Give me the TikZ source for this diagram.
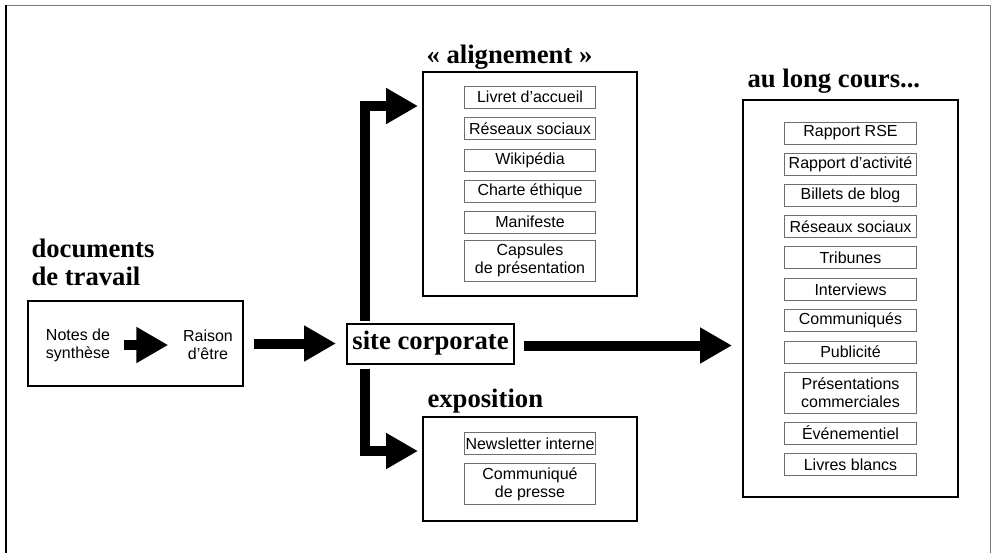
\documentclass[tikz,border=0pt]{standalone}
\usepackage{fontspec}
\setmainfont{Liberation Sans}
\newfontfamily\titlefont{Liberation Serif}
\usetikzlibrary{arrows.meta}

\tikzset{every picture/.style={line width=0.75pt}}
\tikzset{
  outerbox/.style={draw, line width=1.5pt, inner sep=0pt},
  itembox/.style={draw={rgb, 255:red, 110; green, 110; blue, 110}, line width=0.75pt, minimum width=98.5pt, minimum height=16.5pt, inner sep=0.75pt, align=center, font=\fontsize{12}{13.5}\selectfont},
  twoline/.style={itembox, minimum height=30.75pt},
  titletext/.style={font=\titlefont\bfseries\fontsize{20}{21}\selectfont, inner sep=0pt, anchor=base west},
  blockarrow/.style={line width=7.5pt, -{Triangle[width=25.5pt,length=24pt]}},
}

\begin{document}
\begin{tikzpicture}[x=0.75pt,y=0.75pt,yscale=-1,xscale=1]
\useasboundingbox (0,0) rectangle (991,553);

%Frame
\draw [color={rgb, 255:red, 120; green, 120; blue, 120 }] (6,5) -- (990,5) -- (990,553) ;
\draw [line width=1.5pt] (6,553) -- (6,5) ;

%Shape: documents de travail
\draw (135.5,343.5) node (travail) [outerbox, minimum width=161.25pt, minimum height=63.75pt] {};
% Text Node
\draw (78,345) node (notes) [inner sep=0.75pt, align=center, font=\fontsize{12}{13.5}\selectfont] {Notes de\\synthèse};
% Text Node
\draw (208,345) node (raison) [inner sep=0.75pt, align=center, font=\fontsize{12}{13.5}\selectfont] {Raison\\d’être};
\draw [blockarrow, line width=8pt, shorten <=9pt, shorten >=10pt] (notes.east) -- (raison.west) ;
% Text Node
\draw (31,257) node [titletext] {documents};
% Text Node
\draw (31,285) node [titletext] {de travail};

%Shape: site corporate
\draw (430.5,343.5) node (sc) [outerbox, minimum width=125.25pt, minimum height=30pt, font=\titlefont\bfseries\fontsize{20}{21}\selectfont] {site corporate};
\draw [blockarrow, shorten <=7.5pt, shorten >=7.5pt] (travail.east) -- (sc.west) ;

%Shape: alignement
\draw (530,184) node (align) [outerbox, minimum width=160.5pt, minimum height=168pt] {};
% Text Node
\draw (426,63) node [titletext] {«~alignement~»};
\draw (530,97) node (livret) [itembox] {Livret d’accueil};
\draw (530,128.5) node (reseauxA) [itembox] {Réseaux sociaux};
\draw (530,160) node (wiki) [itembox] {Wikipédia};
\draw (530,191) node (charte) [itembox] {Charte éthique};
\draw (530,222) node (manifeste) [itembox] {Manifeste};
\draw (530,260.5) node (capsules) [twoline] {Capsules\\de présentation};
% yshift is flipped by yscale=-1
\draw [blockarrow] ([xshift=14.5pt,yshift=-1.5pt]sc.north west) |- ([xshift=-3pt,yshift=26.25pt]align.north west) ;

%Shape: exposition
\draw (530,469) node (expo) [outerbox, minimum width=160.5pt, minimum height=78pt] {};
% Text Node
\draw (427,407) node [titletext] {exposition};
\draw (530,443.5) node (newsletter) [itembox] {Newsletter interne};
\draw (530,484) node (communique) [twoline] {Communiqué\\de presse};
\draw [blockarrow] ([xshift=14.5pt,yshift=3pt]sc.south west) |- ([xshift=-3pt,yshift=26.25pt]expo.north west) ;

%Shape: au long cours
\draw (850.5,298.5) node (cours) [outerbox, minimum width=161.25pt, minimum height=297.75pt] {};
% Text Node
\draw (747,87) node [titletext] {au long cours...};
\draw (850.5,133) node (rse) [itembox] {Rapport RSE};
\draw (850.5,164) node (activite) [itembox] {Rapport d’activité};
\draw (850.5,195) node (billets) [itembox] {Billets de blog};
\draw (850.5,226.5) node (reseauxB) [itembox] {Réseaux sociaux};
\draw (850.5,257.5) node (tribunes) [itembox] {Tribunes};
\draw (850.5,289.5) node (interviews) [itembox] {Interviews};
\draw (850.5,320.5) node (communiques) [itembox] {Communiqués};
\draw (850.5,352) node (pub) [itembox] {Publicité};
\draw (850.5,392.5) node (presentations) [twoline] {Présentations\\commerciales};
\draw (850.5,433) node (evenementiel) [itembox] {Événementiel};
\draw (850.5,464.5) node (livres) [itembox] {Livres blancs};
\draw [blockarrow, shorten <=6.75pt, shorten >=7.5pt] ([yshift=1.5pt]sc.east) -- ([yshift=1.5pt]sc.east -| cours.west) ;

\end{tikzpicture}
\end{document}
